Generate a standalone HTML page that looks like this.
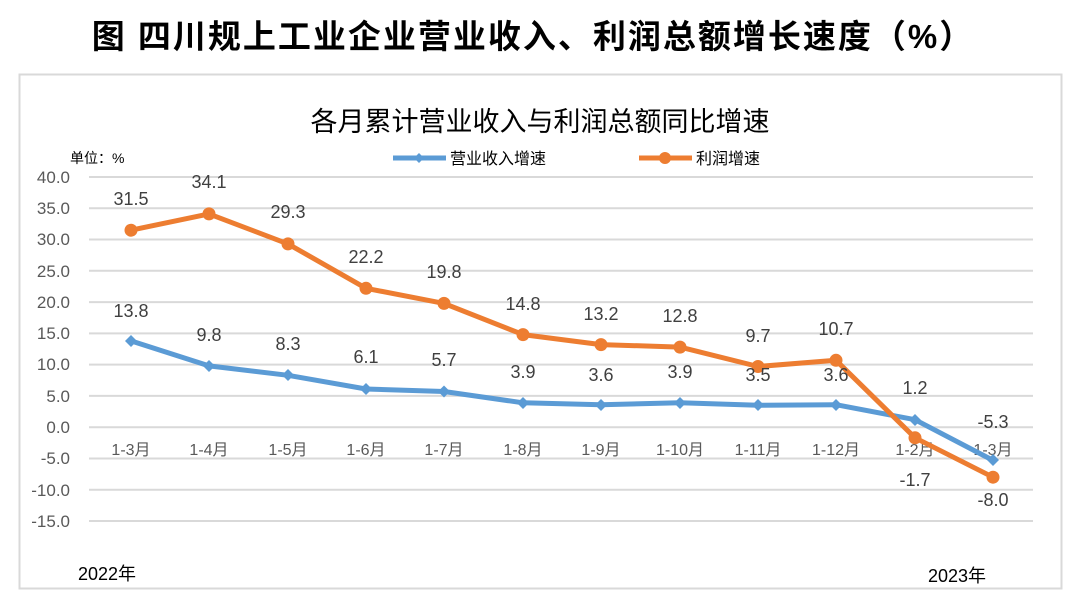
<!DOCTYPE html>
<html><head><meta charset="utf-8"><style>
body{margin:0;background:#fff;width:1080px;height:605px;overflow:hidden}
svg text{font-family:"Liberation Sans","Noto Sans CJK SC",sans-serif}
</style></head><body>
<svg width="1080" height="605" xmlns="http://www.w3.org/2000/svg">
<text x="533" y="48" text-anchor="middle" font-size="33" letter-spacing="2" font-weight="bold" fill="#000">图  四川规上工业企业营业收入、利润总额增长速度（%）</text>
<rect x="19.5" y="74.5" width="1042" height="514" fill="#fff" stroke="#d9d9d9" stroke-width="2"/>
<text x="540" y="131" text-anchor="middle" font-size="27" fill="#000">各月累计营业收入与利润总额同比增速</text>
<text x="70" y="163" font-size="14" fill="#000">单位：%</text>
<line x1="393" y1="158" x2="446" y2="158" stroke="#5b9bd5" stroke-width="5"/>
<path d="M419 153 L424 158 L419 163 L414 158Z" fill="#5b9bd5"/>
<text x="450" y="164" font-size="16" fill="#000">营业收入增速</text>
<line x1="639" y1="158" x2="692" y2="158" stroke="#ed7d31" stroke-width="5"/>
<circle cx="665" cy="158" r="6" fill="#ed7d31"/>
<text x="696" y="164" font-size="16" fill="#000">利润增速</text>
<g stroke="#d9d9d9" stroke-width="2">
<line x1="89" x2="1033" y1="177" y2="177"/><line x1="89" x2="1033" y1="208.3" y2="208.3"/><line x1="89" x2="1033" y1="239.5" y2="239.5"/><line x1="89" x2="1033" y1="270.8" y2="270.8"/><line x1="89" x2="1033" y1="302.1" y2="302.1"/><line x1="89" x2="1033" y1="333.4" y2="333.4"/><line x1="89" x2="1033" y1="364.6" y2="364.6"/><line x1="89" x2="1033" y1="395.9" y2="395.9"/><line x1="89" x2="1033" y1="427.2" y2="427.2"/><line x1="89" x2="1033" y1="458.5" y2="458.5"/><line x1="89" x2="1033" y1="489.7" y2="489.7"/><line x1="89" x2="1033" y1="521" y2="521"/>
</g>
<g font-size="17" fill="#595959" text-anchor="end">
<text x="70" y="183">40.0</text><text x="70" y="214">35.0</text><text x="70" y="245">30.0</text><text x="70" y="277">25.0</text><text x="70" y="308">20.0</text><text x="70" y="339">15.0</text><text x="70" y="370">10.0</text><text x="70" y="402">5.0</text><text x="70" y="433">0.0</text><text x="70" y="464">-5.0</text><text x="70" y="496">-10.0</text><text x="70" y="527">-15.0</text>
</g>
<g font-size="16" fill="#595959" text-anchor="middle">
<text x="131" y="455">1-3月</text><text x="209" y="455">1-4月</text><text x="288" y="455">1-5月</text><text x="366" y="455">1-6月</text><text x="444" y="455">1-7月</text><text x="523" y="455">1-8月</text><text x="601" y="455">1-9月</text><text x="680" y="455">1-10月</text><text x="758" y="455">1-11月</text><text x="836" y="455">1-12月</text><text x="915" y="455">1-2月</text><text x="993" y="455">1-3月</text>
</g>
<polyline fill="none" stroke="#5b9bd5" stroke-width="5" stroke-linejoin="round" points="131,340.9 209,365.9 288,375.3 366,389 444,391.5 523,402.8 601,404.7 680,402.8 758,405.3 836,404.7 915,419.7 993,460.4"/>
<g fill="#5b9bd5">
<path d="M131 335l6 6-6 6-6-6z"/><path d="M209 360l6 6-6 6-6-6z"/><path d="M288 369l6 6-6 6-6-6z"/><path d="M366 383l6 6-6 6-6-6z"/><path d="M444 385.5l6 6-6 6-6-6z"/><path d="M523 397l6 6-6 6-6-6z"/><path d="M601 399l6 6-6 6-6-6z"/><path d="M680 397l6 6-6 6-6-6z"/><path d="M758 399l6 6-6 6-6-6z"/><path d="M836 399l6 6-6 6-6-6z"/><path d="M915 414l6 6-6 6-6-6z"/><path d="M993 454l6 6-6 6-6-6z"/>
</g>
<polyline fill="none" stroke="#ed7d31" stroke-width="5" stroke-linejoin="round" points="131,230.2 209,213.9 288,243.9 366,288.3 444,303.4 523,334.6 601,344.6 680,347.1 758,366.5 836,360.3 915,437.8 993,477.2"/>
<g fill="#ed7d31">
<circle cx="131" cy="230.2" r="6.5"/><circle cx="209" cy="213.9" r="6.5"/><circle cx="288" cy="243.9" r="6.5"/><circle cx="366" cy="288.3" r="6.5"/><circle cx="444" cy="303.4" r="6.5"/><circle cx="523" cy="334.6" r="6.5"/><circle cx="601" cy="344.6" r="6.5"/><circle cx="680" cy="347.1" r="6.5"/><circle cx="758" cy="366.5" r="6.5"/><circle cx="836" cy="360.3" r="6.5"/><circle cx="915" cy="437.8" r="6.5"/><circle cx="993" cy="477.2" r="6.5"/>
</g>
<g font-size="18" fill="#404040" text-anchor="middle">
<text x="131" y="205">31.5</text><text x="209" y="188">34.1</text><text x="288" y="218">29.3</text><text x="366" y="263">22.2</text><text x="444" y="278">19.8</text><text x="523" y="310">14.8</text><text x="601" y="320">13.2</text><text x="680" y="322">12.8</text><text x="758" y="342">9.7</text><text x="836" y="335">10.7</text><text x="915" y="486">-1.7</text><text x="993" y="506">-8.0</text>
<text x="131" y="317">13.8</text><text x="209" y="341">9.8</text><text x="288" y="350">8.3</text><text x="366" y="363">6.1</text><text x="444" y="366">5.7</text><text x="523" y="378">3.9</text><text x="601" y="381">3.6</text><text x="680" y="378">3.9</text><text x="758" y="381">3.5</text><text x="836" y="381">3.6</text><text x="915" y="394">1.2</text><text x="993" y="428">-5.3</text>
</g>
<text x="78" y="580" font-size="18" fill="#000">2022年</text>
<text x="928" y="582" font-size="18" fill="#000">2023年</text>
</svg>
</body></html>
